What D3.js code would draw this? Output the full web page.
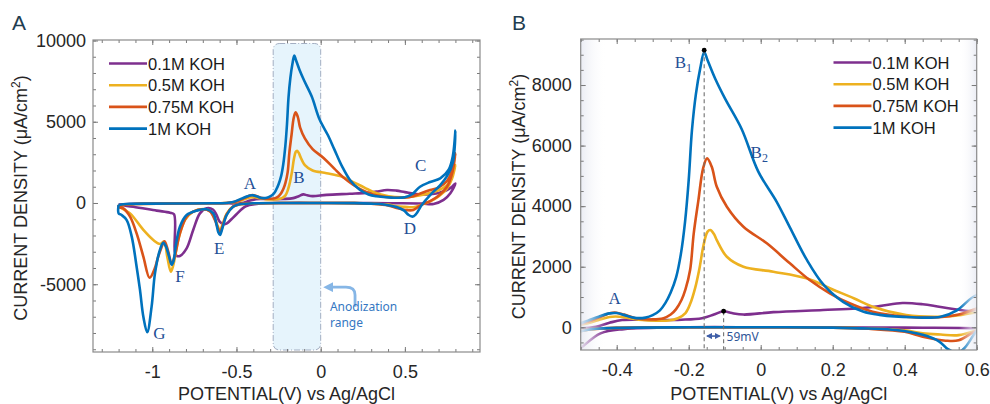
<!DOCTYPE html>
<html>
<head>
    <meta charset='utf-8'>
    <title>CV in KOH</title>
    <script src='https://cdn.jsdelivr.net/npm/d3@7/dist/d3.min.js'></script>
    <style>
        body { margin: 0; background: #fff; }
        svg text { font-family: 'Liberation Sans', Arial, sans-serif; }
    </style>
</head>
<body>
<svg width='990' height='404'></svg>
<script>
    // cyclic voltammograms, [potential V, current density uA/cm2], anodic scan then cathodic scan
    const seriesNames = ['0.1M KOH', '0.5M KOH', '0.75M KOH', '1M KOH']

    const koh01 = [
        [-1.2, -100], [-1.1, -50], [-0.9, -30], [-0.7, -20], [-0.55, -20], [-0.5, -30], [-0.458, 20], [-0.42, 150],
        [-0.385, 240], [-0.33, 250], [-0.283, 240], [-0.22, 250], [-0.163, 300], [-0.13, 420], [-0.103, 530],
        [-0.08, 470], [-0.048, 420], [0.035, 500], [0.173, 570], [0.266, 620], [0.33, 700], [0.394, 800],
        [0.45, 760], [0.5, 670], [0.58, 540], [0.65, 540], [0.7, 620], [0.75, 800], [0.78, 1000], [0.8, 1200],
        [0.77, 600], [0.73, 190], [0.67, -60], [0.6, -30], [0.45, -15], [0.3, -10], [0, 0], [-0.2, 0],
        [-0.38, -60], [-0.445, -200], [-0.5, -690], [-0.53, -1000], [-0.557, -1250], [-0.575, -1300], [-0.6, -1150],
        [-0.62, -700], [-0.64, -400], [-0.677, -330], [-0.717, -640], [-0.757, -1660], [-0.796, -2790],
        [-0.836, -3260], [-0.855, -3250], [-0.866, -3000], [-0.871, -700], [-0.895, -600], [-0.974, -470],
        [-1.113, -230], [-1.2, -100]
    ]

    const koh05 = [
        [-1.2, -150], [-1.1, -60], [-0.9, -40], [-0.7, -20], [-0.56, 0], [-0.52, 30], [-0.48, 130], [-0.45, 240],
        [-0.42, 340], [-0.393, 350], [-0.36, 290], [-0.329, 240], [-0.29, 220], [-0.256, 225], [-0.23, 300],
        [-0.209, 470], [-0.195, 800], [-0.182, 1300], [-0.17, 1950], [-0.159, 2700], [-0.148, 3150], [-0.14, 3211],
        [-0.13, 3080], [-0.122, 2881], [-0.094, 2330], [-0.048, 2000], [0.035, 1835], [0.127, 1617], [0.2, 1250],
        [0.26, 950], [0.311, 680], [0.404, 406], [0.496, 350], [0.55, 400], [0.6, 500], [0.65, 620], [0.7, 780],
        [0.75, 1100], [0.78, 1600], [0.8, 2340],
        [0.78, 1500], [0.75, 900], [0.7, 400], [0.65, 100], [0.6, -100], [0.55, -260], [0.5, -240], [0.45, -200],
        [0.4, -100], [0.3, -40], [0.2, -10], [0, 0], [-0.2, 0], [-0.4, -20], [-0.48, -80], [-0.52, -200],
        [-0.558, -650], [-0.585, -1400], [-0.598, -1700], [-0.612, -1400], [-0.628, -950], [-0.657, -500],
        [-0.697, -380], [-0.757, -530], [-0.806, -1050], [-0.846, -2280], [-0.875, -3815], [-0.89, -4226],
        [-0.911, -3300], [-0.93, -2380], [-0.954, -2523], [-0.994, -2280], [-1.053, -1660], [-1.132, -640],
        [-1.2, -200]
    ]

    const koh075 = [
        [-1.2, -150], [-1.1, -60], [-0.9, -40], [-0.7, -20], [-0.56, 0], [-0.52, 40], [-0.48, 180], [-0.45, 320],
        [-0.42, 460], [-0.405, 490], [-0.38, 420], [-0.348, 300], [-0.3, 260], [-0.27, 300], [-0.25, 420],
        [-0.235, 600], [-0.22, 900], [-0.209, 1250], [-0.196, 1900], [-0.186, 3100], [-0.173, 4200], [-0.16, 5250],
        [-0.149, 5577], [-0.136, 5300], [-0.122, 4640], [-0.094, 3980], [-0.048, 3320], [0.017, 2772],
        [0.081, 2112], [0.136, 1561], [0.192, 1122], [0.247, 792], [0.311, 515], [0.404, 350], [0.496, 330],
        [0.55, 420], [0.6, 620], [0.65, 800], [0.7, 950], [0.75, 1350], [0.78, 2000], [0.8, 3060],
        [0.78, 1800], [0.75, 1000], [0.7, 450], [0.65, 120], [0.6, -100], [0.55, -430], [0.514, -442],
        [0.45, -310], [0.4, -150], [0.3, -50], [0.2, -10], [0, 0], [-0.2, 0], [-0.4, -20], [-0.48, -80],
        [-0.52, -220], [-0.558, -700], [-0.585, -1500], [-0.598, -1850], [-0.612, -1500], [-0.628, -1050],
        [-0.657, -530], [-0.697, -390], [-0.757, -530], [-0.796, -840], [-0.836, -1870], [-0.865, -3200],
        [-0.885, -3750], [-0.905, -3000], [-0.927, -2350], [-0.946, -2750], [-0.966, -3350], [-0.986, -4050],
        [-1.016, -4600], [-1.053, -3300], [-1.093, -1870], [-1.132, -840], [-1.172, -330], [-1.2, -250]
    ]

    const koh1 = [
        [-1.2, -120], [-1.15, -60], [-1.0, -40], [-0.8, -30], [-0.65, -20], [-0.56, 0], [-0.52, 60], [-0.48, 220],
        [-0.45, 350], [-0.42, 460], [-0.4, 470], [-0.38, 410], [-0.35, 310], [-0.32, 320], [-0.3, 400],
        [-0.28, 560], [-0.265, 800], [-0.25, 1150], [-0.235, 1650], [-0.222, 2400], [-0.21, 3500], [-0.2, 4860],
        [-0.191, 6500], [-0.18, 7700], [-0.168, 8550], [-0.157, 9080], [-0.147, 8800], [-0.126, 8200],
        [-0.099, 7550], [-0.053, 6550], [-0.007, 5150], [0.044, 4150], [0.081, 3300], [0.127, 2250],
        [0.175, 1400], [0.23, 830], [0.284, 520], [0.33, 410], [0.42, 330], [0.5, 350], [0.545, 560],
        [0.59, 1000], [0.65, 1290], [0.71, 1520], [0.76, 2050], [0.785, 2900], [0.8, 4450],
        [0.785, 2500], [0.75, 1650], [0.71, 1100], [0.65, 490], [0.6, -120], [0.565, -700], [0.545, -840],
        [0.52, -720], [0.496, -470], [0.45, -250], [0.376, -90], [0.3, -40], [0.2, -10], [0, 0], [-0.2, 0],
        [-0.4, -20], [-0.48, -80], [-0.52, -230], [-0.558, -740], [-0.585, -1600], [-0.598, -1970],
        [-0.608, -1800], [-0.618, -1350], [-0.638, -640], [-0.677, -390], [-0.736, -470], [-0.796, -740],
        [-0.836, -1460], [-0.86, -2600], [-0.875, -3600], [-0.885, -3800], [-0.9, -3300], [-0.918, -2700],
        [-0.935, -2450], [-0.955, -2900], [-0.984, -4330], [-1.004, -6380], [-1.03, -7950], [-1.053, -7000],
        [-1.073, -5350], [-1.093, -3920], [-1.122, -2070], [-1.152, -1050], [-1.182, -740], [-1.2, -640]
    ]

    const xTicksA = [-1, -0.5, 0, 0.5]
    const yTicksA = [-5000, 0, 5000, 10000]
    const xTicksB = [-0.4, -0.2, 0, 0.2, 0.4, 0.6]
    const yTicksB = [0, 2000, 4000, 6000, 8000]

    // peak labels, [text, potential, current density]
    const peakLabelsA = [['A', -0.42, 890], ['B', -0.129, 1260], ['C', 0.594, 1970], ['D', 0.53, -1880],
        ['E', -0.602, -3110], ['F', -0.835, -4890], ['G', -0.958, -8340]]
    const anodizationRange = [-0.282, 0]
    const peakB1 = [-0.157, 9150]
    const peakPurple = [-0.103, 530]

    const colors = ['#7E2F8E', '#EDB120', '#D95319', '#0072BD']
    const series = [koh01, koh05, koh075, koh1]
    const labelBlue = '#1f4f96'
    const serif = "'Liberation Serif', 'DejaVu Serif', serif"
    const note = "'Noto Sans', 'Open Sans', sans-serif"

    const svg = d3.select('svg')
    const defs = svg.append('defs')
    const fmt = d => String(d)

    function panel(cfg) {
        const x = d3.scaleLinear().domain(cfg.xDomain).range([cfg.left, cfg.right])
        const y = d3.scaleLinear().domain(cfg.yDomain).range([cfg.bottom, cfg.top])
        const g = svg.append('g')

        defs.append('clipPath').attr('id', 'clip' + cfg.id)
            .append('rect')
            .attr('x', cfg.left).attr('y', cfg.top)
            .attr('width', cfg.right - cfg.left).attr('height', cfg.bottom - cfg.top)

        const back = g.append('g')
        const plot = g.append('g').attr('clip-path', `url(#clip${cfg.id})`)
        const front = g.append('g')

        const line = d3.line()
            .x(d => x(d[0]))
            .y(d => y(d[1]))
            .curve(d3.curveCatmullRom.alpha(0.5))

        series.forEach((s, i) => {
            plot.append('path')
                .attr('d', line(s.concat([s[0]])))
                .attr('fill', 'none')
                .attr('stroke', colors[i])
                .attr('stroke-width', 2.6)
                .attr('stroke-linejoin', 'round')
        })

        // axes, ticks pointing inward on all four sides
        const axes = g.append('g')
        const addAxis = (axis, tr, major, minor, labels, pad) => {
            axes.append('g').attr('transform', tr)
                .call(axis.tickValues(minor).tickSize(-3).tickFormat(''))
            const a = axes.append('g').attr('transform', tr)
                .call(axis.tickValues(major).tickSize(-5).tickPadding(pad).tickFormat(labels ? fmt : ''))
            a.selectAll('text').attr('font-size', '18px').attr('fill', '#262626')
        }
        addAxis(d3.axisBottom(x), `translate(0,${cfg.bottom})`, cfg.xMajor, cfg.xMinor, true, 13)
        addAxis(d3.axisTop(x), `translate(0,${cfg.top})`, cfg.xMajor, cfg.xMinor, false, 0)
        addAxis(d3.axisLeft(y), `translate(${cfg.left},0)`, cfg.yMajor, cfg.yMinor, true, cfg.yPad)
        addAxis(d3.axisRight(y), `translate(${cfg.right},0)`, cfg.yMajor, cfg.yMinor, false, 0)
        axes.selectAll('.domain').remove()
        axes.selectAll('line').attr('stroke', '#7a7a7a')

        g.append('rect')
            .attr('x', cfg.left).attr('y', cfg.top)
            .attr('width', cfg.right - cfg.left).attr('height', cfg.bottom - cfg.top)
            .attr('fill', 'none').attr('stroke', '#8a8a8a').attr('stroke-width', 1.2)

        // axis titles
        g.append('text')
            .attr('x', (cfg.left + cfg.right) / 2).attr('y', 399.5)
            .attr('text-anchor', 'middle').attr('font-size', '18px').attr('fill', '#262626')
            .text('POTENTIAL(V) vs Ag/AgCl')
        const yt = g.append('text')
            .attr('transform', `translate(${cfg.yTitleX},${(cfg.top + cfg.bottom) / 2 + 2}) rotate(-90)`)
            .attr('text-anchor', 'middle').attr('font-size', '18px').attr('fill', '#262626')
        yt.append('tspan').text('CURRENT DENSITY (μA/cm')
        yt.append('tspan').attr('dy', -7).attr('font-size', '12px').text('2')
        yt.append('tspan').attr('dy', 7).text(')')

        g.append('text')
            .attr('x', cfg.letterX).attr('y', 29.5)
            .attr('font-size', '21px').attr('fill', '#1f3d50')
            .text(cfg.id)

        // legend
        const lg = front.append('g')
        seriesNames.forEach((name, i) => {
            const yy = cfg.legendY + i * 21.7
            lg.append('line')
                .attr('x1', cfg.legendX).attr('x2', cfg.legendX + 38)
                .attr('y1', yy).attr('y2', yy)
                .attr('stroke', colors[i]).attr('stroke-width', 2.6)
            lg.append('text')
                .attr('x', cfg.legendX + 39).attr('y', yy + 6)
                .attr('font-size', '16.5px').attr('fill', '#1a1a1a')
                .text(name)
        })

        return { x, y, back, plot, front, g }
    }

    // ---------- panel A ----------
    const A = panel({
        id: 'A', left: 93, right: 480, top: 40, bottom: 352,
        xDomain: [-1.352, 0.946], yDomain: [-9170, 10030],
        xMajor: xTicksA, xMinor: d3.range(-13, 10).map(d => d / 10),
        yMajor: yTicksA, yMinor: d3.range(-9, 11).map(d => d * 1000),
        yPad: 7, yTitleX: 27, letterX: 12, legendX: 109, legendY: 63.5
    })

    A.back.append('rect')
        .attr('x', A.x(anodizationRange[0])).attr('y', 43.5)
        .attr('width', A.x(anodizationRange[1]) - A.x(anodizationRange[0]))
        .attr('height', 350 - 43.5)
        .attr('rx', 6)
        .attr('fill', '#e6f4fc')
        .attr('stroke', '#a3aec2').attr('stroke-width', 1)
        .attr('stroke-dasharray', '6,2,1,2')

    peakLabelsA.forEach(p => {
        A.front.append('text')
            .attr('x', A.x(p[1])).attr('y', A.y(p[2]))
            .attr('text-anchor', 'middle')
            .style('font-family', serif)
            .attr('font-size', '17px').attr('fill', labelBlue)
            .text(p[0])
    })

    defs.append('marker').attr('id', 'headA')
        .attr('viewBox', '0 0 10 10').attr('refX', 5).attr('refY', 5)
        .attr('markerWidth', 3.6).attr('markerHeight', 3.6).attr('orient', 'auto')
        .append('path').attr('d', 'M0,0 L10,5 L0,10 Z').attr('fill', '#86b6e6')

    const ax0 = A.x(0.204), ay0 = A.y(-6380)
    A.front.append('path')
        .attr('d', `M${ax0},${ay0} L${ax0},${A.y(-5660)} Q${ax0},${A.y(-5180)} ${A.x(0.15)},${A.y(-5180)} L${A.x(0.045)},${A.y(-5180)}`)
        .attr('fill', 'none').attr('stroke', '#86b6e6').attr('stroke-width', 2.8)
        .attr('marker-end', 'url(#headA)')
    const at = A.front.append('text')
        .style('font-family', note)
        .attr('font-size', '12px').attr('fill', '#3577c2')
        .attr('x', A.x(0.055)).attr('y', A.y(-6640))
    at.append('tspan').text('Anodization')
    at.append('tspan').attr('x', A.x(0.055)).attr('dy', 16.6).text('range')

    // ---------- panel B ----------
    const B = panel({
        id: 'B', left: 580.7, right: 976.7, top: 39, bottom: 350,
        xDomain: [-0.5, 0.6], yDomain: [-750, 9520],
        xMajor: xTicksB, xMinor: d3.range(-10, 13).map(d => d / 20),
        yMajor: yTicksB, yMinor: d3.range(-1, 20).map(d => d * 500),
        yPad: 9, yTitleX: 525, letterX: 512, legendX: 833.5, legendY: 62.5
    })

    // faded edges of the zoomed window
    const fade = (id, x1, x2) => {
        const lg = defs.append('linearGradient').attr('id', id)
            .attr('x1', x1).attr('x2', x2).attr('y1', 0).attr('y2', 0)
        lg.append('stop').attr('offset', 0).attr('stop-color', '#e9ebf3').attr('stop-opacity', 0.92)
        lg.append('stop').attr('offset', 1).attr('stop-color', '#ffffff').attr('stop-opacity', 0)
    }
    fade('fadeL', 0, 1)
    fade('fadeR', 1, 0)
    B.plot.append('rect').attr('x', B.x(-0.5)).attr('y', 39).attr('width', 26).attr('height', 311)
        .attr('fill', 'url(#fadeL)')
    B.plot.append('rect').attr('x', B.x(0.6) - 17.7).attr('y', 39).attr('width', 17.7).attr('height', 311)
        .attr('fill', 'url(#fadeR)')

    // 59 mV shift between peak B1 and the 0.1M peak
    ;[peakB1, peakPurple].forEach(p => {
        B.front.append('line')
            .attr('x1', B.x(p[0])).attr('x2', B.x(p[0]))
            .attr('y1', B.y(p[1])).attr('y2', B.y(-750))
            .attr('stroke', '#707070').attr('stroke-width', 1.1).attr('stroke-dasharray', '4,3')
        B.front.append('circle')
            .attr('cx', B.x(p[0])).attr('cy', B.y(p[1])).attr('r', 2.4).attr('fill', '#000')
    })

    defs.append('marker').attr('id', 'headB')
        .attr('viewBox', '0 0 10 10').attr('refX', 8).attr('refY', 5)
        .attr('markerWidth', 4).attr('markerHeight', 4).attr('orient', 'auto-start-reverse')
        .append('path').attr('d', 'M0,0 L10,5 L0,10 Z').attr('fill', '#3f5fa8')
    B.front.append('line')
        .attr('x1', B.x(peakB1[0]) + 3).attr('x2', B.x(peakPurple[0]) - 4)
        .attr('y1', B.y(-290)).attr('y2', B.y(-290))
        .attr('stroke', '#3f5fa8').attr('stroke-width', 1.6)
        .attr('marker-start', 'url(#headB)').attr('marker-end', 'url(#headB)')
    B.front.append('text')
        .attr('x', B.x(peakPurple[0]) + 3).attr('y', B.y(-290) + 4.5)
        .style('font-family', note)
        .attr('font-size', '12px').attr('fill', '#2f5597')
        .text('59mV')

    const serifLabel = (xv, yv, main, sub) => {
        const t = B.front.append('text')
            .attr('x', B.x(xv)).attr('y', B.y(yv))
            .attr('text-anchor', 'middle')
            .style('font-family', serif)
            .attr('font-size', '17px').attr('fill', labelBlue)
        t.append('tspan').text(main)
        if (sub) t.append('tspan').attr('dy', 4).attr('font-size', '12px').text(sub)
    }
    serifLabel(-0.215, 8560, 'B', '1')
    serifLabel(-0.004, 5600, 'B', '2')
    serifLabel(-0.406, 770, 'A')
</script>
</body>
</html>
